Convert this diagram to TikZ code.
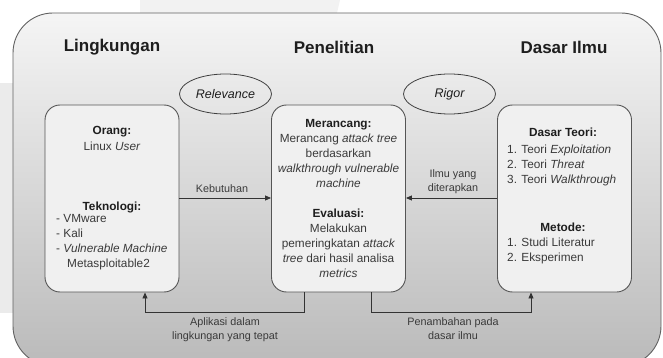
\documentclass[tikz,border=0pt]{standalone}
\usepackage{fontspec}
\setmainfont{Liberation Sans}
\usetikzlibrary{shapes.geometric,arrows.meta}
\definecolor{txt}{HTML}{3A3A3A}
\definecolor{hd}{HTML}{1E1E1E}
\definecolor{edge}{HTML}{555555}
\tikzset{
  x=1pt, y=-1pt,
  box/.style={draw=edge, line width=0.9pt, fill=black!6, rounded corners=15pt, minimum width=134pt, minimum height=187pt, inner sep=0pt},
  oval/.style={ellipse, draw=black!75, line width=0.8pt, minimum width=92pt, minimum height=40pt, inner sep=0pt, font=\fontsize{12.5}{14}\selectfont\itshape, text=hd},
  title/.style={font=\fontsize{17}{20}\selectfont\bfseries, text=hd, inner sep=0pt},
  body/.style={font=\fontsize{11.8}{15}\selectfont, text=txt, inner sep=0pt},
  head/.style={font=\fontsize{11.8}{15}\selectfont\bfseries, text=hd, inner sep=0pt},
  lbl/.style={font=\fontsize{10.8}{14}\selectfont, text=txt, inner sep=0pt, align=center},
  arr/.style={draw=black!80, line width=0.9pt, -{Triangle[length=6pt,width=5pt]}}
}
\begin{document}
\begin{tikzpicture}
\useasboundingbox (0,0) rectangle (663,358);
% faint background shapes
\fill[black!8] (0,83) rectangle (13,313);
\fill[black!5] (140,0) -- (340,0) -- (337,13) -- (140,13) -- cycle;
% outer container
\begin{scope}
\clip (0,0) rectangle (663,358);
\shade[top color=black!4, bottom color=black!27, draw=black!62, line width=0.9pt, rounded corners=40pt] (13,13) rectangle (661,366);
\end{scope}
% titles
\node[title] (t1) at (112,47) {Lingkungan};
\node[title] (t2) at (334,47) {Penelitian};
\node[title] (t3) at (564,47) {Dasar Ilmu};
% ellipses
\node[oval] (rel) at (225.5,94) {Relevance};
\node[oval] (rig) at (449.5,94) {Rigor};
% boxes
\node[box] (L) at (112,198.5) {};
\node[box] (M) at (338.5,198.5) {};
\node[box] (R) at (564.5,198.5) {};
% left box text
\node[head] (lo) at (112,132) {Orang:};
\node[body] (lu) at (112,146) {Linux \textit{User}};
\node[head] (lt) at (112,207) {Teknologi:};
\node[body, anchor=west, align=left] (ll) at (56,242.5) {- VMware\\- Kali\\- \textit{Vulnerable Machine}\\\hspace*{11pt}Metasploitable2};
% middle box text
\node[body, align=center] (mt) at (338.5,198) {\textbf{\textcolor{hd}{Merancang:}}\\Merancang \textit{attack tree}\\berdasarkan\\\textit{walkthrough vulnerable}\\\textit{machine}\\[15pt]\textbf{\textcolor{hd}{Evaluasi:}}\\Melakukan\\pemeringkatan \textit{attack}\\\textit{tree} dari hasil analisa\\\textit{metrics}};
% right box text
\node[head] (rd) at (563,132) {Dasar Teori:};
\node[body, anchor=west, align=left] (rl) at (507,165) {1. Teori \textit{Exploitation}\\2. Teori \textit{Threat}\\3. Teori \textit{Walkthrough}};
\node[head] (rm) at (563,227) {Metode:};
\node[body, anchor=west, align=left] (rml) at (507,250.5) {1. Studi Literatur\\2. Eksperimen};
% connectors
\draw[arr] (L.east |- 0,198) -- (M.west |- 0,198);
\node[lbl] (kb) at (222,189) {Kebutuhan};
\draw[arr] (R.west |- 0,198) -- (M.east |- 0,198);
\node[lbl] (iy) at (453,182) {Ilmu yang\\diterapkan};
\coordinate (bl) at (145,312);
\coordinate (br) at (531,312);
\draw[arr] ([xshift=-34.5pt]M.south) |- (bl) -- (L.south -| bl);
\draw[arr] ([xshift=32.5pt]M.south) |- (br) -- (R.south -| br);
\node[lbl] (ap) at (225,330) {Aplikasi dalam\\lingkungan yang tepat};
\node[lbl] (pp) at (453,329) {Penambahan pada\\dasar ilmu};
\end{tikzpicture}
\end{document}
